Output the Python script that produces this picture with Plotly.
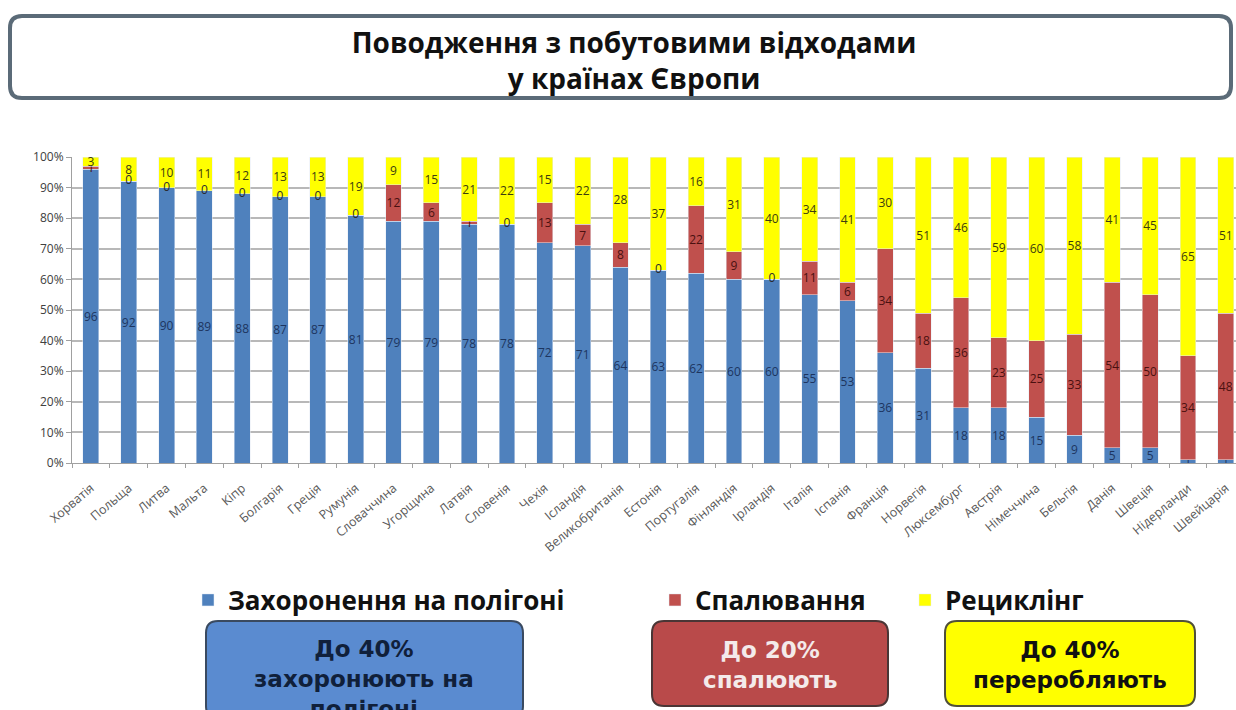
import plotly.graph_objects as go

countries = ["Хорватія", "Польща", "Литва", "Мальта", "Кіпр", "Болгарія", "Греція", "Румунія",
             "Словаччина", "Угорщина", "Латвія", "Словенія", "Чехія", "Ісландія", "Великобританія",
             "Естонія", "Португалія", "Фінляндія", "Ірландія", "Італія", "Іспанія", "Франція",
             "Норвегія", "Люксембург", "Австрія", "Німеччина", "Бельгія", "Данія", "Швеція",
             "Нідерланди", "Швейцарія"]
landfill = [96, 92, 90, 89, 88, 87, 87, 81, 79, 79, 78, 78, 72, 71, 64, 63, 62, 60, 60, 55, 53, 36,
            31, 18, 18, 15, 9, 5, 5, 1, 1]
incineration = [1, 0, 0, 0, 0, 0, 0, 0, 12, 6, 1, 0, 13, 7, 8, 0, 22, 9, 0, 11, 6, 34,
                18, 36, 23, 25, 33, 54, 50, 34, 48]
recycling = [3, 8, 10, 11, 12, 13, 13, 19, 9, 15, 21, 22, 15, 22, 28, 37, 16, 31, 40, 34, 41, 30,
             51, 46, 59, 60, 58, 41, 45, 65, 51]
yticks = [0, 10, 20, 30, 40, 50, 60, 70, 80, 90, 100]
ytick_labels = [f"{v}%" for v in yticks]

series_names = ["Захоронення на полігоні", "Спалювання", "Рециклінг"]
title_text = "Поводження з побутовими відходами<br>у країнах Європи"

W, H = 1236, 710
ML, MR, MT, MB = 72, 0, 157, 247
PW = W - ML - MR
PH = H - MT - MB


def px(x):
    return (x - ML) / PW


def py(y):
    return (H - MB - y) / PH


def rounded_rect(x0, y0, x1, y1, r):
    pts = [
        f"M{px(x0 + r)},{py(y0)}",
        f"L{px(x1 - r)},{py(y0)}",
        f"Q{px(x1)},{py(y0)} {px(x1)},{py(y0 + r)}",
        f"L{px(x1)},{py(y1 - r)}",
        f"Q{px(x1)},{py(y1)} {px(x1 - r)},{py(y1)}",
        f"L{px(x0 + r)},{py(y1)}",
        f"Q{px(x0)},{py(y1)} {px(x0)},{py(y1 - r)}",
        f"L{px(x0)},{py(y0 + r)}",
        f"Q{px(x0)},{py(y0)} {px(x0 + r)},{py(y0)}",
        "Z",
    ]
    return " ".join(pts)


BLUE = "#4F81BD"
RED = "#C0504D"
YELLOW = "#FFFF00"

fig = go.Figure()


def lbl(vals):
    return [str(v) if v != 0 else "" for v in vals]


label_font = "Open Sans"
fig.add_trace(go.Bar(x=countries, y=landfill, name=series_names[0], marker_color=BLUE,
                     text=lbl(landfill), textposition="inside", insidetextanchor="middle",
                     textangle=0, textfont=dict(size=12, color="#1d3560", family=label_font),
                     legend="legend"))
fig.add_trace(go.Bar(x=countries, y=incineration, name=series_names[1], marker_color=RED,
                     text=lbl(incineration), textposition="inside", insidetextanchor="middle",
                     textangle=0, textfont=dict(size=12, color="#4a1010", family=label_font),
                     legend="legend2"))
fig.add_trace(go.Bar(x=countries, y=recycling, name=series_names[2], marker_color=YELLOW,
                     text=lbl(recycling), textposition="inside", insidetextanchor="middle",
                     textangle=0, textfont=dict(size=12, color="#3d3d10", family=label_font),
                     legend="legend3"))

# zero-valued incineration labels at the segment boundary
zx = [c for c, v in zip(countries, incineration) if v == 0]
zy = [l for l, v in zip(landfill, incineration) if v == 0]
fig.add_trace(go.Scatter(x=zx, y=zy, mode="text", text=["0"] * len(zx),
                         textfont=dict(size=12, color="#2a2a30", family=label_font),
                         showlegend=False, hoverinfo="skip"))

shapes = [
    dict(type="path", xref="paper", yref="paper", path=rounded_rect(10, 16, 1231, 98, 12),
         line=dict(color="#5b6b78", width=4), fillcolor="white", layer="below"),
    dict(type="path", xref="paper", yref="paper", path=rounded_rect(206, 621, 523, 718, 12),
         line=dict(color="#3a4a60", width=2), fillcolor="#5a8bd0", layer="above"),
    dict(type="path", xref="paper", yref="paper", path=rounded_rect(652, 621, 888, 706, 12),
         line=dict(color="#4a3535", width=2), fillcolor="#b94a4a", layer="above"),
    dict(type="path", xref="paper", yref="paper", path=rounded_rect(945, 621, 1195, 706, 12),
         line=dict(color="#50503a", width=2), fillcolor="#ffff00", layer="above"),
]

box_font = dict(family="DejaVu Sans", size=23)
annotations = [
    dict(x=px(364), y=py(679), xref="paper", yref="paper", showarrow=False,
         text="<b>До 40%<br>захоронюють на<br>полігоні</b>", font=dict(color="#10203a", **box_font),
         yanchor="middle", xanchor="center"),
    dict(x=px(770), y=py(665), xref="paper", yref="paper", showarrow=False,
         text="<b>До 20%<br>спалюють</b>", font=dict(color="#f4eaea", **box_font),
         yanchor="middle", xanchor="center"),
    dict(x=px(1070), y=py(665), xref="paper", yref="paper", showarrow=False,
         text="<b>До 40%<br>переробляють</b>", font=dict(color="#111111", **box_font),
         yanchor="middle", xanchor="center"),
]

legend_font = dict(family="Open Sans", size=26, color="#111111", weight="bold")
leg_common = dict(orientation="h", xanchor="left", yanchor="middle", bgcolor="rgba(0,0,0,0)",
                  font=legend_font, itemwidth=30)

fig.update_layout(
    width=W, height=H,
    margin=dict(l=ML, r=MR, t=MT, b=MB),
    barmode="stack",
    bargap=0.58,
    paper_bgcolor="white",
    plot_bgcolor="white",
    uniformtext=dict(minsize=12, mode="show"),
    title=dict(text="<b>" + title_text + "</b>", x=0.513, xanchor="center",
               y=1 - 53 / H, yanchor="middle",
               font=dict(family="Open Sans", size=28, color="#111111")),
    xaxis=dict(range=[-0.5, 30.27], tickangle=-40,
               tickfont=dict(family="Open Sans", size=12.5, color="#595959"),
               ticks="outside", tickson="boundaries", ticklen=4, tickcolor="#a0a0a0",
               ticklabelstandoff=12,
               showline=True, linecolor="#a0a0a0", linewidth=1, showgrid=False),
    yaxis=dict(range=[0, 100], tickvals=yticks, ticktext=ytick_labels,
               tickfont=dict(family="Open Sans", size=12, color="#404040"),
               showgrid=True, gridcolor="#b8b8b8", gridwidth=1.5,
               ticks="outside", ticklen=5, tickcolor="#a0a0a0",
               showline=True, linecolor="#a0a0a0", zeroline=False),
    legend=dict(x=px(188), y=py(600), **leg_common),
    legend2=dict(x=px(655), y=py(600), **leg_common),
    legend3=dict(x=px(905), y=py(600), **leg_common),
    shapes=shapes,
    annotations=annotations,
)

fig.write_html("out.html", config={"displayModeBar": False},
               post_script="document.body.style.margin='0';")
